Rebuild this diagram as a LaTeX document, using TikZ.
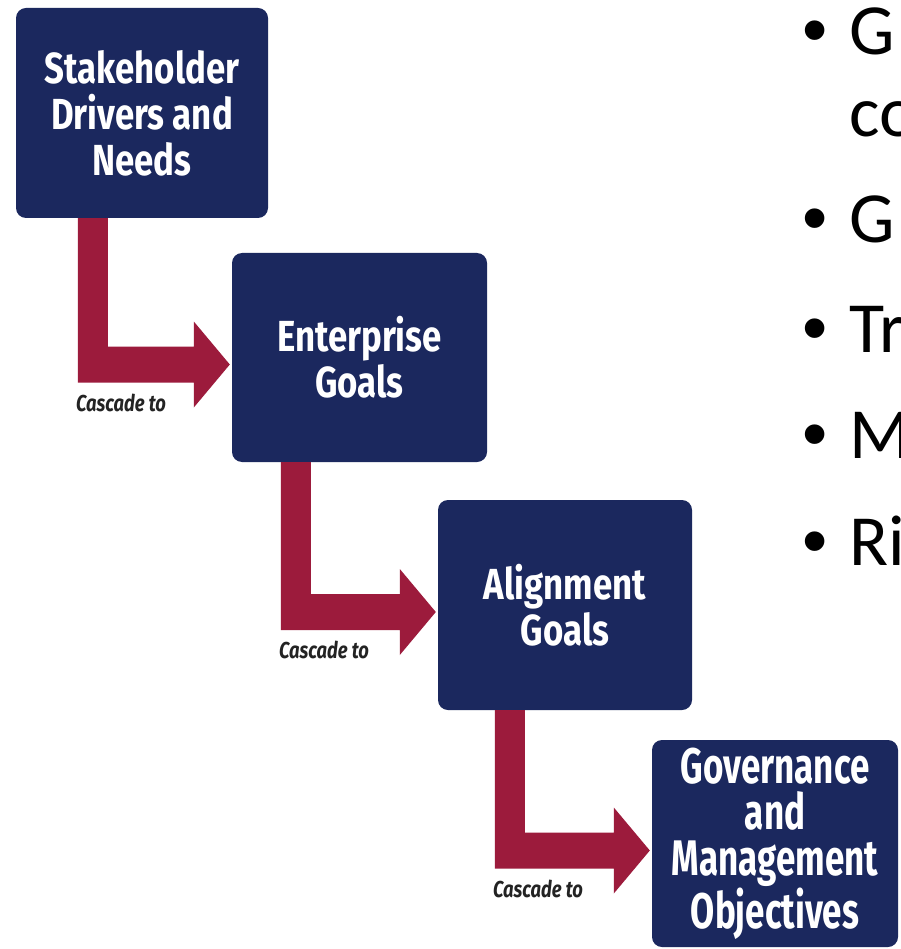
\documentclass[tikz,border=0pt]{standalone}
\usepackage{fontspec}
\setmainfont{Carlito}
\newfontfamily\boxfont[FakeStretch=0.8]{Fira Sans}
\newfontfamily\boxfontb[FakeStretch=0.7]{Fira Sans}
\newfontfamily\bulfont{Liberation Sans}
\usetikzlibrary{calc}
\definecolor{navy}{RGB}{27,40,94}
\definecolor{casc}{RGB}{156,27,60}
\definecolor{casctxt}{RGB}{35,35,35}
\tikzset{
  box/.style={fill=navy, rounded corners=10pt, text=white, align=center, inner sep=0pt,
    font=\boxfont\bfseries\fontsize{43.5}{46}\selectfont},
  cascade/.style={text=casctxt, inner sep=0pt, font=\boxfont\bfseries\itshape\fontsize{23}{24}\selectfont},
  bul/.style={anchor=base, inner sep=0pt, font=\bulfont\fontsize{72}{80}\selectfont},
  btxt/.style={anchor=base west, inner sep=0pt, font=\fontsize{72}{80}\selectfont}
}
\newcommand{\cascarrow}[3]{%
  \fill[casc] ($(#1.south west)+(#2,0)$) coordinate (#1s) -- ++(30,0)
    |- ($(#3.west)+(-38,-11)$) -- ($(#3.west)+(-38,-36)$) -- ($(#3.west)+(-2,7)$)
    -- ($(#3.west)+(-38,50)$) -- ($(#3.west)+(-38,25)$) -| (#1s) -- cycle;
  \node[cascade, anchor=west] (#1lab) at ($(#1s |- #3.west)+(-2,45)$) {Cascade to};
}
\begin{document}
\begin{tikzpicture}[x=1pt,y=-1pt]
\useasboundingbox[fill=white] (0,0) rectangle (900,949);
\node[box, minimum width=252pt, minimum height=210pt] (b1) at (142,113) {Stakeholder\\Drivers and\\Needs};
\node[box, minimum width=255pt, minimum height=209pt] (b2) at (359.5,357.5) {Enterprise\\Goals};
\node[box, minimum width=254pt, minimum height=210pt] (b3) at (565,605) {Alignment\\Goals};
\node[box, minimum width=246pt, minimum height=207pt,
  font=\boxfontb\bfseries\fontsize{50}{46}\selectfont] (b4) at (775,843.5) {Governance\\and\\Management\\Objectives};
\cascarrow{b1}{62}{b2}
\cascarrow{b2}{49}{b3}
\cascarrow{b3}{57}{b4}
\begin{scope}
\clip (0,0) rectangle (900,949);
\node[bul] (u1) at (815,55) {•};
\node[btxt] (t1) at (849,55) {G};
\node[btxt] (t1b) at (849,137) {co};
\node[bul] (u2) at (815,243) {•};
\node[btxt] (t2) at (849,243) {G};
\node[bul] (u3) at (815,352) {•};
\node[btxt] (t3) at (849,352) {Tr};
\node[bul] (u4) at (815,458) {•};
\node[btxt] (t4) at (849,458) {M};
\node[bul] (u5) at (815,565) {•};
\node[btxt] (t5) at (849,565) {Ri};
\end{scope}
\end{tikzpicture}
\end{document}
